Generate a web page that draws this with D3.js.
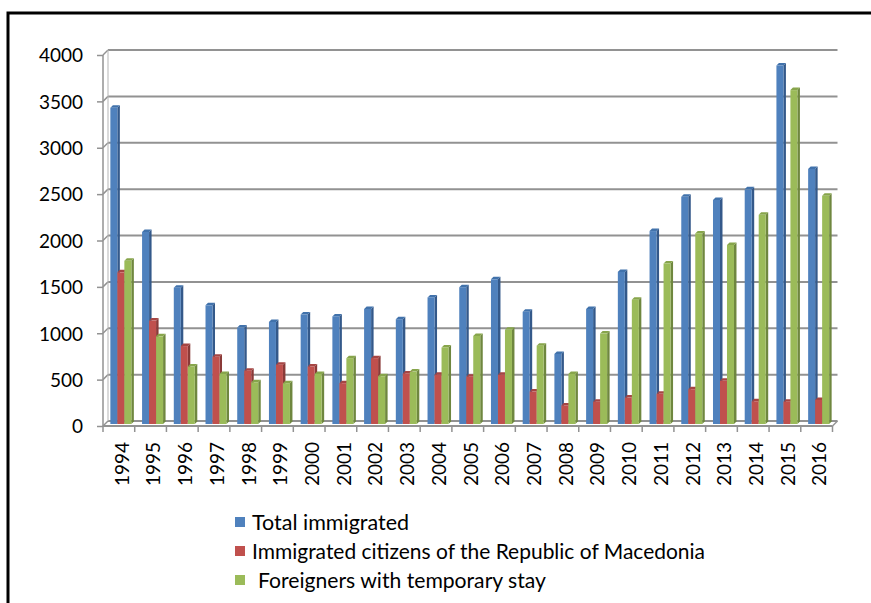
<!DOCTYPE html>
<html>
<head>
<meta charset="utf-8">
<script src="https://cdn.jsdelivr.net/npm/d3@7"></script>
<style>
  html, body { margin: 0; padding: 0; background: #fff; }
  svg { display: block; }
  text { font-family: Lato, "Open Sans", sans-serif; fill: #000; }
</style>
</head>
<body>
<svg id="chart" width="871" height="603"></svg>
<script>
// Immigration to the Republic of Macedonia, 1994–2016
const years = ["1994","1995","1996","1997","1998","1999","2000","2001","2002","2003","2004","2005",
               "2006","2007","2008","2009","2010","2011","2012","2013","2014","2015","2016"];
const totalImmigrated = [3410,2070,1470,1280,1040,1100,1180,1160,1240,1130,1365,1475,
                         1560,1210,755,1240,1640,2080,2450,2415,2530,3865,2750];
const citizensRM      = [1635,1115,840,725,575,640,620,440,710,545,530,510,
                         530,350,200,240,285,325,375,465,245,240,260];
const foreignersTemp  = [1760,945,620,540,450,440,540,710,515,565,825,950,
                         1015,845,540,975,1340,1730,2055,1930,2255,3600,2460];
const yTicks = [0,500,1000,1500,2000,2500,3000,3500,4000];
const seriesNames = ["Total immigrated",
                     "Immigrated citizens of the Republic of Macedonia",
                     "Foreigners with temporary stay"];

const series = [
  {name: seriesNames[0], values: totalImmigrated, front: "#4f81bd", side: "#34598a", top: "#4172ab"},
  {name: seriesNames[1], values: citizensRM,      front: "#c0504d", side: "#8a3a38", top: "#a64543"},
  {name: seriesNames[2], values: foreignersTemp,  front: "#9bbb59", side: "#6f873f", top: "#87a54b"}
];

const svg = d3.select("#chart");

// outer frame (left and top edges)
svg.append("path")
  .attr("d", "M8,603 L8,13 L871,13")
  .attr("fill", "none").attr("stroke", "#000").attr("stroke-width", 3);

// front plane scales; the back wall is shifted by the depth offset
const depth = {dx: 5, dy: -5};
const x = d3.scaleBand().domain(years).range([103, 832.5]).padding(0);
const y = d3.scaleLinear().domain([0, 4000]).range([426, 55]);
const xLeft = x.range()[0], xRight = x.range()[1];

const grid = svg.append("g");
const gridColor = "#929292";

// back wall gridlines and the short side-wall connectors
yTicks.forEach(v => {
  grid.append("line")
    .attr("x1", xLeft + depth.dx).attr("x2", xRight + depth.dx)
    .attr("y1", y(v) + depth.dy).attr("y2", y(v) + depth.dy)
    .attr("stroke", gridColor).attr("stroke-width", 2);
  grid.append("line")
    .attr("x1", xLeft).attr("y1", y(v))
    .attr("x2", xLeft + depth.dx).attr("y2", y(v) + depth.dy)
    .attr("stroke", gridColor).attr("stroke-width", 1.5);
});
// back wall left edge
grid.append("line")
  .attr("x1", xLeft + depth.dx).attr("x2", xLeft + depth.dx)
  .attr("y1", y(0) + depth.dy).attr("y2", y(4000) + depth.dy)
  .attr("stroke", "#b5b5b5").attr("stroke-width", 1);
// floor right edge
grid.append("line")
  .attr("x1", xRight).attr("y1", y(0))
  .attr("x2", xRight + depth.dx).attr("y2", y(0) + depth.dy)
  .attr("stroke", gridColor).attr("stroke-width", 1.5);

// columns: sit at mid depth, three series side by side
const groupW = 21;
const sx = d3.scaleBand().domain(series.map(s => s.name)).range([0, groupW]).padding(0);
const barOff = {dx: 2, dy: -2};   // bar front plane inside the depth
const barD = {dx: 2.5, dy: -2.5};  // bar thickness in depth

const bars = svg.append("g");
years.forEach((yr, i) => {
  series.forEach(s => {
    const v = s.values[i];
    const x0 = x(yr) + (x.bandwidth() - groupW) / 2 + sx(s.name) + barOff.dx;
    const w = sx.bandwidth();
    const yb = y(0) + barOff.dy;
    const yt = y(v) + barOff.dy;
    const g = bars.append("g");
    // side face
    g.append("path")
      .attr("d", `M${x0 + w},${yt} L${x0 + w + barD.dx},${yt + barD.dy} L${x0 + w + barD.dx},${yb + barD.dy} L${x0 + w},${yb} Z`)
      .attr("fill", s.side);
    // top face
    g.append("path")
      .attr("d", `M${x0},${yt} L${x0 + barD.dx},${yt + barD.dy} L${x0 + w + barD.dx},${yt + barD.dy} L${x0 + w},${yt} Z`)
      .attr("fill", s.top);
    // front face
    g.append("rect")
      .attr("x", x0).attr("y", yt)
      .attr("width", w).attr("height", yb - yt)
      .attr("fill", s.front);
  });
});

// front axes
const axes = svg.append("g");
axes.append("line")
  .attr("x1", xLeft).attr("x2", xLeft).attr("y1", y(0)).attr("y2", y(4000))
  .attr("stroke", gridColor).attr("stroke-width", 1.5);
axes.append("line")
  .attr("x1", xLeft).attr("x2", xRight).attr("y1", y(0)).attr("y2", y(0))
  .attr("stroke", gridColor).attr("stroke-width", 2);

// value axis
const yAxis = d3.axisLeft(y).tickValues(yTicks).tickFormat(d3.format("d"))
  .tickSize(6).tickSizeOuter(0).tickPadding(14);
const ya = axes.append("g").attr("transform", `translate(${xLeft},0)`).call(yAxis);
ya.select(".domain").remove();
ya.selectAll(".tick line").attr("stroke", gridColor).attr("stroke-width", 1.5);
ya.selectAll(".tick text")
  .attr("font-family", "Lato, sans-serif").attr("font-size", 19).attr("fill", "#000")
  .attr("dy", "0.36em");

// category axis: ticks at category boundaries
const bounds = years.map(yr => x(yr)).concat([xRight]);
bounds.forEach(bx => {
  axes.append("line")
    .attr("x1", bx).attr("x2", bx).attr("y1", y(0)).attr("y2", y(0) + 6)
    .attr("stroke", gridColor).attr("stroke-width", 1.5);
});
years.forEach(yr => {
  const cx = x(yr) + x.bandwidth() / 2 + 3;
  axes.append("text")
    .attr("transform", `translate(${cx + 6.8},442) rotate(-90)`)
    .attr("text-anchor", "end")
    .attr("font-size", 19)
    .text(yr);
});

// legend
const legend = svg.append("g");
const legendRows = [
  {y: 522, tx: 252, len: 157},
  {y: 551, tx: 252, len: 453},
  {y: 580, tx: 258, len: 288}
];
series.forEach((s, i) => {
  const r = legendRows[i];
  legend.append("rect")
    .attr("x", 235).attr("y", r.y - 5).attr("width", 10).attr("height", 10)
    .attr("fill", s.front);
  legend.append("text")
    .attr("x", r.tx).attr("y", r.y + 8)
    .attr("font-size", 22)
    .attr("textLength", r.len).attr("lengthAdjust", "spacingAndGlyphs")
    .text(s.name);
});
</script>
</body>
</html>
